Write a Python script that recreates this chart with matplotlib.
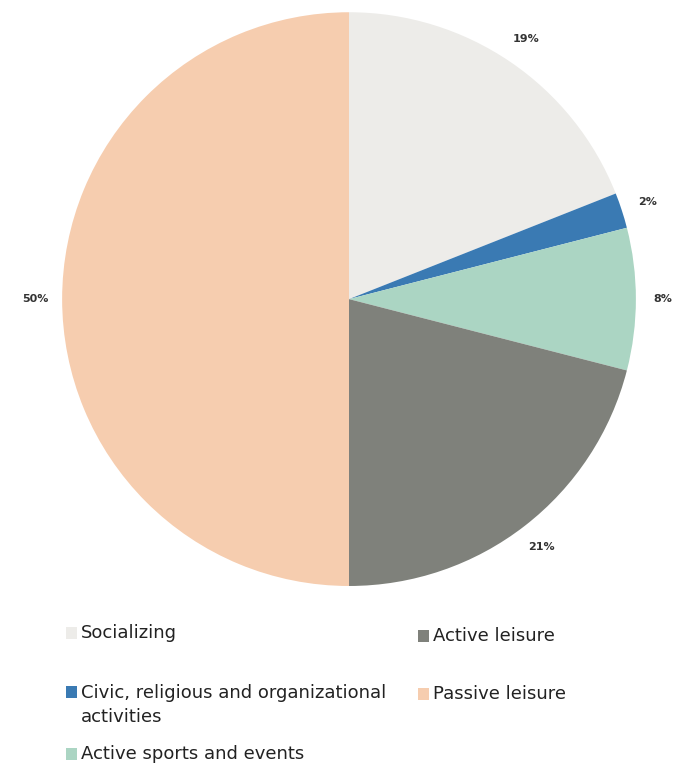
import matplotlib.pyplot as plt
from matplotlib.patches import Rectangle

# data
labels = ['Socializing', 'Civic, religious and organizational\nactivities',
          'Active sports and events', 'Active leisure', 'Passive leisure']
values = [19, 2, 8, 21, 50]
colors = ['#EDECE9', '#3A7AB3', '#ABD5C3', '#7F817B', '#F6CDAF']

plt.rcParams['font.family'] = ['DejaVu Sans']

fig = plt.figure(figsize=(6.85, 7.65), dpi=100)
ax = fig.add_axes([0.0905, 0.234, 0.838, 0.750])
wedges, texts = ax.pie(values, colors=colors, startangle=90, counterclock=False,
                       labels=[f'{v}%' for v in values], labeldistance=1.095,
                       textprops={'fontsize': 8, 'fontweight': 'bold', 'color': '#333333'})
for t in texts:
    t.set_horizontalalignment('center')
    t.set_verticalalignment('center')
ax.set_xlim(-1, 1)
ax.set_ylim(-1, 1)
ax.set_aspect('equal')

# legend by hand (two columns, uneven rows)
W, H = 685.0, 765.0
pos = [(66, 633), (66, 692), (66, 754), (418, 636), (418, 694)]
for lab, col, (px, py) in zip(labels, colors, pos):
    fig.patches.append(Rectangle((px / W, 1 - (py + 6) / H), 11 / W, 12 / H,
                                 transform=fig.transFigure, facecolor=col, edgecolor='none'))
    if '\n' in lab:
        fig.text((px + 15) / W, 1 - (py - 8) / H, lab, fontsize=13, color='#222222',
                 ha='left', va='top', linespacing=1.45)
    else:
        fig.text((px + 15) / W, 1 - py / H, lab, fontsize=13, color='#222222',
                 ha='left', va='center')

fig.savefig('out.png', dpi=100)
